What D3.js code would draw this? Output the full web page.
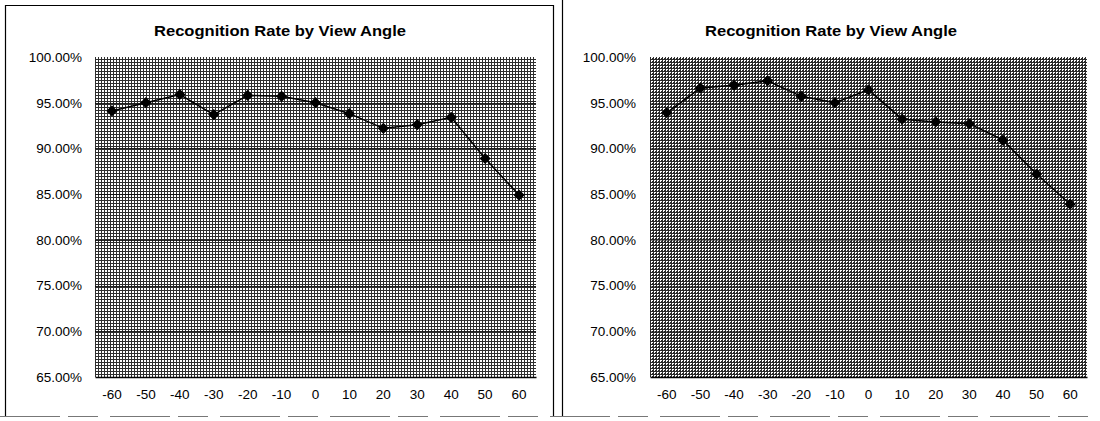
<!DOCTYPE html>
<html>
<head>
<meta charset="utf-8">
<script src="https://cdn.jsdelivr.net/npm/d3@7"></script>
<style>
  body { margin: 0; background: #fff; }
  svg { display: block; font-family: "Liberation Sans", Arial, sans-serif; }
</style>
</head>
<body>
<svg id="canvas" width="1100" height="421"></svg>
<script>
const angles = [-60, -50, -40, -30, -20, -10, 0, 10, 20, 30, 40, 50, 60];
const leftRates = [94.1, 95.0, 95.9, 93.7, 95.8, 95.7, 95.0, 93.8, 92.2, 92.6, 93.4, 88.9, 84.9];
const rightRates = [93.9, 96.6, 96.9, 97.4, 95.7, 95.0, 96.4, 93.2, 92.9, 92.7, 90.9, 87.2, 83.9];
const yTicks = [65, 70, 75, 80, 85, 90, 95, 100];
const chartTitle = 'Recognition Rate by View Angle';

const svg = d3.select('#canvas');
const defs = svg.append('defs');

// halftone look of the scanned plot area
function addDither (id, bg, holes) {
  let p = defs.append('pattern')
    .attr('id', id)
    .attr('patternUnits', 'userSpaceOnUse')
    .attr('width', 3)
    .attr('height', 3);
  p.append('rect').attr('width', 3).attr('height', 3).attr('fill', bg);
  holes.forEach(h => {
    p.append('rect')
      .attr('x', h[0]).attr('y', h[1])
      .attr('width', 1).attr('height', 1)
      .attr('fill', '#fff');
  });
}
addDither('ditherLeft', '#2e2e2e', [[0, 0], [1, 0], [0, 1], [1, 1]]);
addDither('ditherRight', '#2a2a2a', [[0, 0], [1, 0], [0, 1]]);

function drawChart (box, values) {
  let g = svg.append('g');

  let x = d3.scaleBand()
    .domain(angles)
    .range([box.left, box.right]);
  let y = d3.scaleLinear()
    .domain([65, 100])
    .range([box.bottom, box.top]);

  g.append('text')
    .attr('x', box.titleX)
    .attr('y', 36)
    .attr('text-anchor', 'middle')
    .attr('font-size', 15)
    .attr('font-weight', 'bold')
    .attr('textLength', 252)
    .attr('lengthAdjust', 'spacingAndGlyphs')
    .attr('fill', '#000')
    .text(chartTitle);

  g.append('rect')
    .attr('x', box.left)
    .attr('y', box.top)
    .attr('width', box.right - box.left)
    .attr('height', box.bottom - box.top)
    .attr('fill', 'url(#' + box.pattern + ')');

  // gridlines
  g.selectAll('line.grid')
    .data(yTicks.slice(1, -1))
    .enter().append('line')
    .attr('class', 'grid')
    .attr('x1', box.left)
    .attr('x2', box.right)
    .attr('y1', d => Math.round(y(d)) + 0.5)
    .attr('y2', d => Math.round(y(d)) + 0.5)
    .attr('stroke', '#111')
    .attr('stroke-opacity', box.gridOpacity);

  let yAxis = g.append('g')
    .attr('transform', 'translate(' + box.left + ',0)')
    .call(d3.axisLeft(y)
      .tickValues(yTicks)
      .tickSize(0)
      .tickPadding(box.labelGap)
      .tickFormat(d => d.toFixed(2) + '%'));
  yAxis.select('.domain').remove();
  yAxis.selectAll('text')
    .attr('font-size', 13.5)
    .attr('font-family', '"Liberation Sans", Arial, sans-serif')
    .attr('fill', '#000');

  let xAxis = g.append('g')
    .attr('transform', 'translate(0,' + box.bottom + ')')
    .call(d3.axisBottom(x).tickSize(0).tickPadding(12));
  xAxis.select('.domain')
    .attr('stroke', '#000')
    .attr('stroke-width', 1.5);
  xAxis.selectAll('text')
    .attr('font-size', 13.5)
    .attr('font-family', '"Liberation Sans", Arial, sans-serif')
    .attr('fill', '#000');

  let pts = angles.map((a, i) => [x(a) + x.bandwidth() / 2, y(values[i])]);

  g.append('path')
    .attr('d', d3.line()(pts))
    .attr('fill', 'none')
    .attr('stroke', '#000')
    .attr('stroke-width', 1.5);

  g.selectAll('path.marker')
    .data(pts)
    .enter().append('path')
    .attr('class', 'marker')
    .attr('d', d3.symbol(d3.symbolDiamond2, 80))
    .attr('transform', d => 'translate(' + d[0] + ',' + d[1] + ')')
    .attr('fill', '#000');
}

drawChart({ left: 95, right: 536, top: 57, bottom: 377, titleX: 280,
  pattern: 'ditherLeft', gridOpacity: 0.9, labelGap: 13 }, leftRates);
drawChart({ left: 650, right: 1087, top: 57, bottom: 377, titleX: 831,
  pattern: 'ditherRight', gridOpacity: 0.5, labelGap: 14 }, rightRates);

// scanned frames
svg.append('path')
  .attr('d', 'M5.5,416 L5.5,5.5 L553.5,5.5 L553.5,416')
  .attr('fill', 'none')
  .attr('stroke', '#000')
  .attr('stroke-width', 1.2);
svg.append('line')
  .attr('x1', 562.5).attr('x2', 562.5)
  .attr('y1', 0).attr('y2', 416)
  .attr('stroke', '#000')
  .attr('stroke-width', 1.2);
svg.append('line')
  .attr('x1', 0).attr('x2', 1100)
  .attr('y1', 416.5).attr('y2', 416.5)
  .attr('stroke', '#777')
  .attr('stroke-dasharray', '60,8,30,12');
</script>
</body>
</html>
